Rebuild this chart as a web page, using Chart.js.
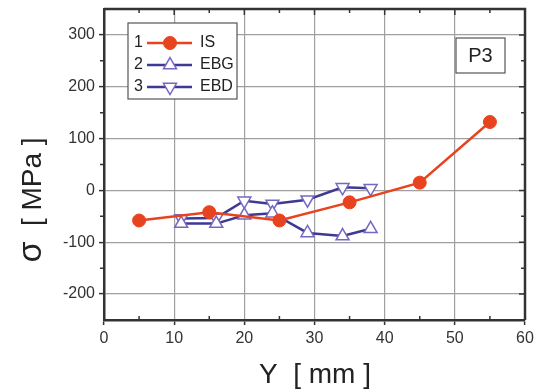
<!DOCTYPE html>
<html>
<head>
<meta charset="utf-8">
<script src="https://cdn.jsdelivr.net/npm/chart.js@4.4.1/dist/chart.umd.min.js"></script>
<style>
  html, body { margin: 0; padding: 0; background: #fff; }
  #wrap { width: 535px; height: 390px; position: relative; }
</style>
</head>
<body>
<div id="wrap"><canvas id="chart" width="535" height="390"></canvas></div>
<script>
// 数据
const isX = [5, 15, 25, 35, 45, 55];
const isY = [-58, -42, -58, -23, 15, 132];
const ebgX = [11, 16, 20, 24, 29, 34, 38];
const ebgY = [-64, -64, -48, -44, -82, -88, -74];
const ebdX = [11, 16, 20, 24, 29, 34, 38];
const ebdY = [-54, -53, -20, -26, -18, 6, 4];

const xTicks = [0, 10, 20, 30, 40, 50, 60];
const yTicks = [-200, -100, 0, 100, 200, 300];
const legendLabels = ['IS', 'EBG', 'EBD'];
const panelLabel = 'P3';

const red = '#e8431f';
const navy = '#3d3a94';
const violet = '#7668c0';
const font = '"Liberation Sans", Arial, sans-serif';

function toPoints(xs, ys) {
    return xs.map((x, i) => ({ x: x, y: ys[i] }));
}

// 坐标轴小刻度、图例、标注
const decorPlugin = {
    id: 'decor',
    afterDraw(chart) {
        const ctx = chart.ctx;
        const a = chart.chartArea;
        const xs = chart.scales.x, ys = chart.scales.y;
        ctx.save();
        ctx.strokeStyle = '#333';
        ctx.lineWidth = 1.5;
        ctx.beginPath();
        for (let v = 5; v < 60; v += 5) {
            const px = xs.getPixelForValue(v);
            const len = v % 10 === 0 ? 6 : 4;
            ctx.moveTo(px, a.top); ctx.lineTo(px, a.top + len);
            if (v % 10 !== 0) { ctx.moveTo(px, a.bottom); ctx.lineTo(px, a.bottom - len); }
        }
        for (let v = -200; v <= 300; v += 50) {
            const py = ys.getPixelForValue(v);
            const len = v % 100 === 0 ? 6 : 4;
            ctx.moveTo(a.right, py); ctx.lineTo(a.right - len, py);
            if (v % 100 !== 0) { ctx.moveTo(a.left, py); ctx.lineTo(a.left - 4, py); }
        }
        ctx.stroke();
        // 上、右边框
        ctx.lineWidth = 2.5;
        ctx.beginPath();
        ctx.moveTo(a.left, a.top); ctx.lineTo(a.right, a.top); ctx.lineTo(a.right, a.bottom);
        ctx.stroke();

        // 图例
        const lx = a.left + 24, ly = a.top + 14, lw = 109, lh = 76;
        ctx.fillStyle = '#fff';
        ctx.fillRect(lx, ly, lw, lh);
        ctx.strokeStyle = '#555';
        ctx.lineWidth = 1.2;
        ctx.strokeRect(lx, ly, lw, lh);
        ctx.font = '16px ' + font;
        ctx.textBaseline = 'middle';
        chart.data.datasets.forEach((ds, i) => {
            const cy = ly + 20 + i * 22;
            ctx.fillStyle = '#222';
            ctx.textAlign = 'left';
            ctx.fillText(String(i + 1), lx + 6, cy);
            ctx.strokeStyle = ds.borderColor;
            ctx.lineWidth = 2.5;
            ctx.beginPath();
            ctx.moveTo(lx + 19, cy); ctx.lineTo(lx + 64, cy);
            ctx.stroke();
            ctx.fillStyle = ds.pointBackgroundColor;
            ctx.strokeStyle = ds.pointBorderColor;
            ctx.lineWidth = ds.pointBorderWidth;
            Chart.helpers.drawPoint(ctx, {
                pointStyle: ds.pointStyle,
                rotation: ds.pointRotation || 0,
                radius: ds.pointRadius,
                borderWidth: ds.pointBorderWidth
            }, lx + 42, cy);
            ctx.fillStyle = '#222';
            ctx.fillText(legendLabels[i], lx + 72, cy);
        });

        // P3 标注
        const bx = 456, by = 38, bw = 49, bh = 35;
        ctx.fillStyle = '#fff';
        ctx.fillRect(bx, by, bw, bh);
        ctx.strokeStyle = '#555';
        ctx.lineWidth = 1.2;
        ctx.strokeRect(bx, by, bw, bh);
        ctx.fillStyle = '#222';
        ctx.font = '20px ' + font;
        ctx.textAlign = 'center';
        ctx.fillText(panelLabel, bx + bw / 2, by + bh / 2 + 1);

        // 轴标题
        ctx.fillStyle = '#222';
        ctx.font = '28px ' + font;
        ctx.textAlign = 'center';
        ctx.textBaseline = 'alphabetic';
        ctx.fillText('Y  [ mm ]', 315, 383);

        ctx.save();
        ctx.translate(41, 200);
        ctx.rotate(-Math.PI / 2);
        ctx.textAlign = 'left';
        ctx.font = '34px ' + font;
        const sig = 'σ';
        const rest = '  [ MPa ]';
        const w1 = ctx.measureText(sig).width;
        ctx.font = '28px ' + font;
        const w2 = ctx.measureText(rest).width;
        const start = -(w1 + w2) / 2;
        ctx.font = '34px ' + font;
        ctx.fillText(sig, start, 0);
        ctx.font = '28px ' + font;
        ctx.fillText(rest, start + w1, 0);
        ctx.restore();
        ctx.restore();
    }
};

const ctx = document.getElementById('chart').getContext('2d');
new Chart(ctx, {
    type: 'line',
    data: {
        datasets: [{
            label: legendLabels[0],
            data: toPoints(isX, isY),
            borderColor: red,
            backgroundColor: red,
            borderWidth: 2.5,
            pointStyle: 'circle',
            pointRadius: 6.5,
            pointBackgroundColor: red,
            pointBorderColor: red,
            pointBorderWidth: 1
        }, {
            label: legendLabels[1],
            data: toPoints(ebgX, ebgY),
            borderColor: navy,
            backgroundColor: '#fff',
            borderWidth: 2.5,
            pointStyle: 'triangle',
            pointRadius: 7.5,
            pointBackgroundColor: '#fff',
            pointBorderColor: violet,
            pointBorderWidth: 1.5
        }, {
            label: legendLabels[2],
            data: toPoints(ebdX, ebdY),
            borderColor: navy,
            backgroundColor: '#fff',
            borderWidth: 2.5,
            pointStyle: 'triangle',
            pointRotation: 180,
            pointRadius: 7.5,
            pointBackgroundColor: '#fff',
            pointBorderColor: violet,
            pointBorderWidth: 1.5
        }]
    },
    options: {
        responsive: false,
        animation: false,
        layout: { padding: { top: 9, right: 10, left: 0, bottom: 0 } },
        plugins: {
            legend: { display: false },
            tooltip: { enabled: false }
        },
        scales: {
            x: {
                type: 'linear',
                min: 0,
                max: 60,
                afterBuildTicks: s => { s.ticks = xTicks.map(v => ({ value: v })); },
                afterFit: s => { s.height = 70; s.paddingLeft = 0; s.paddingRight = 0; },
                ticks: { color: '#333', font: { family: font, size: 16 }, padding: 4 },
                grid: { color: '#a0a0a0', lineWidth: 1.2, tickColor: '#333', tickLength: 5, tickWidth: 1.5 },
                border: { color: '#333', width: 2.5 }
            },
            y: {
                type: 'linear',
                min: -250,
                max: 350,
                afterBuildTicks: s => { s.ticks = yTicks.map(v => ({ value: v })); },
                afterFit: s => { s.width = 104; s.paddingTop = 0; s.paddingBottom = 0; },
                ticks: { color: '#333', font: { family: font, size: 16 }, padding: 4 },
                grid: { color: '#a0a0a0', lineWidth: 1.2, tickColor: '#333', tickLength: 5, tickWidth: 1.5 },
                border: { color: '#333', width: 2.5 }
            }
        }
    },
    plugins: [decorPlugin]
});
</script>
</body>
</html>
